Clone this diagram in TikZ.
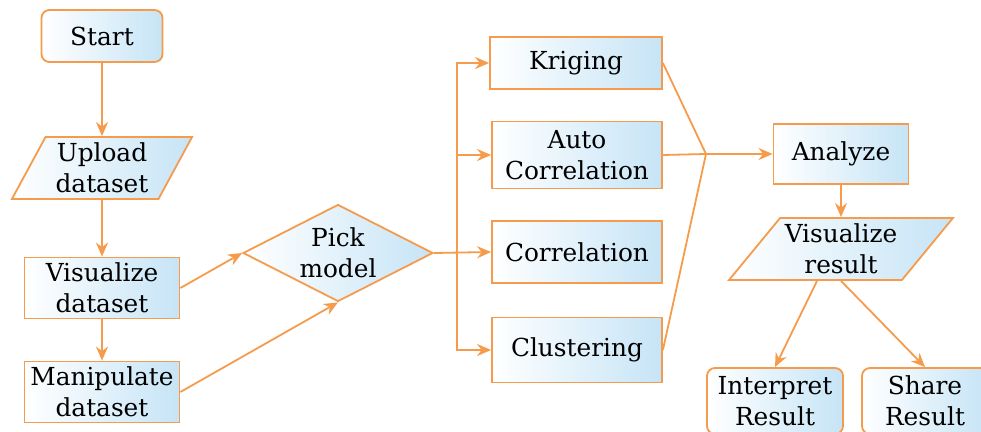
\documentclass[tikz,border=0pt]{standalone}
\usepackage{fontspec}
\setmainfont{DejaVu Serif}
\usetikzlibrary{arrows.meta,shapes.geometric,calc}
\definecolor{flowline}{RGB}{245,155,75}
\definecolor{flowfill}{RGB}{198,228,246}
\tikzset{>={Stealth[length=7pt,width=6pt]}}
\tikzset{
  box/.style={draw=flowline, line width=0.9pt, left color=white, right color=flowfill,
    align=center, inner sep=1pt, text=black, font=\fontsize{12.4}{15.5}\selectfont},
  term/.style={box, rounded corners=4pt},
  io/.style={box, trapezium, trapezium stretches=true},
  choice/.style={box, diamond, aspect=2, inner sep=0pt},
  link/.style={draw=flowline, line width=0.9pt}
}

\begin{document}
\begin{tikzpicture}[x=0.5pt,y=-0.5pt]
    \useasboundingbox (0,0) rectangle (981,432);

    % left column
    \node[term, minimum width=60.5pt, minimum height=26pt] (start) at (102,36) {Start};
    \node[io, trapezium left angle=62, trapezium right angle=118,
          minimum width=90.5pt, minimum height=31pt] (upload) at (102,168) {Upload\\dataset};
    \node[box, minimum width=77.5pt, minimum height=30.5pt] (visd) at (102,288) {Visualize\\dataset};
    \node[box, minimum width=77.5pt, minimum height=30.5pt] (manip) at (102,392) {Manipulate\\dataset};
    \node[choice, minimum width=95pt, minimum height=48.5pt] (pick) at (338,253) {Pick\\model};

    % models
    \node[box, minimum width=86pt, minimum height=26pt] (krig) at (576,63) {Kriging};
    \node[box, minimum width=85pt, minimum height=33.5pt] (auto) at (577,155) {Auto\\Correlation};
    \node[box, minimum width=85pt, minimum height=31pt] (corr) at (577,252) {Correlation};
    \node[box, minimum width=85pt, minimum height=32.5pt] (clus) at (577,350) {Clustering};

    % results
    \node[box, minimum width=67.5pt, minimum height=30pt] (analyze) at (841,154) {Analyze};
    \node[io, trapezium left angle=48, trapezium right angle=132,
          minimum width=112pt, minimum height=31pt] (vres) at (841,249) {Visualize\\result};
    \node[term, minimum width=68pt, minimum height=33pt] (interp) at (775,401) {Interpret\\Result};
    \node[term, minimum width=63pt, minimum height=33pt] (share) at (925,401) {Share\\Result};

    \coordinate (split) at (457,252);
    \coordinate (join) at (706,154);

    \draw[link,->] (start) -- (upload);
    \draw[link,->] (upload) -- (visd);
    \draw[link,->] (visd) -- (manip);
    \draw[link,->] (visd.east) -- (pick.west);
    \draw[link,->] (manip.east) -- (pick.south);

    \draw[link,->] (pick.east) -- (corr.west);
    \draw[link,->] (split) |- (krig.west);
    \draw[link,->] (split) |- (auto.west);
    \draw[link,->] (split) |- (clus.west);

    \draw[link] (krig.east) -- (join) -- (clus.east);
    \draw[link] (auto.east) -- (join);
    \draw[link,->] (join) -- (analyze.west);

    \draw[link,->] (analyze) -- (vres);
    \draw[link,->] ([xshift=-12pt]vres.south) -- (interp.north);
    \draw[link,->] (vres.south) -- (share.north);
  \end{tikzpicture}
\end{document}
